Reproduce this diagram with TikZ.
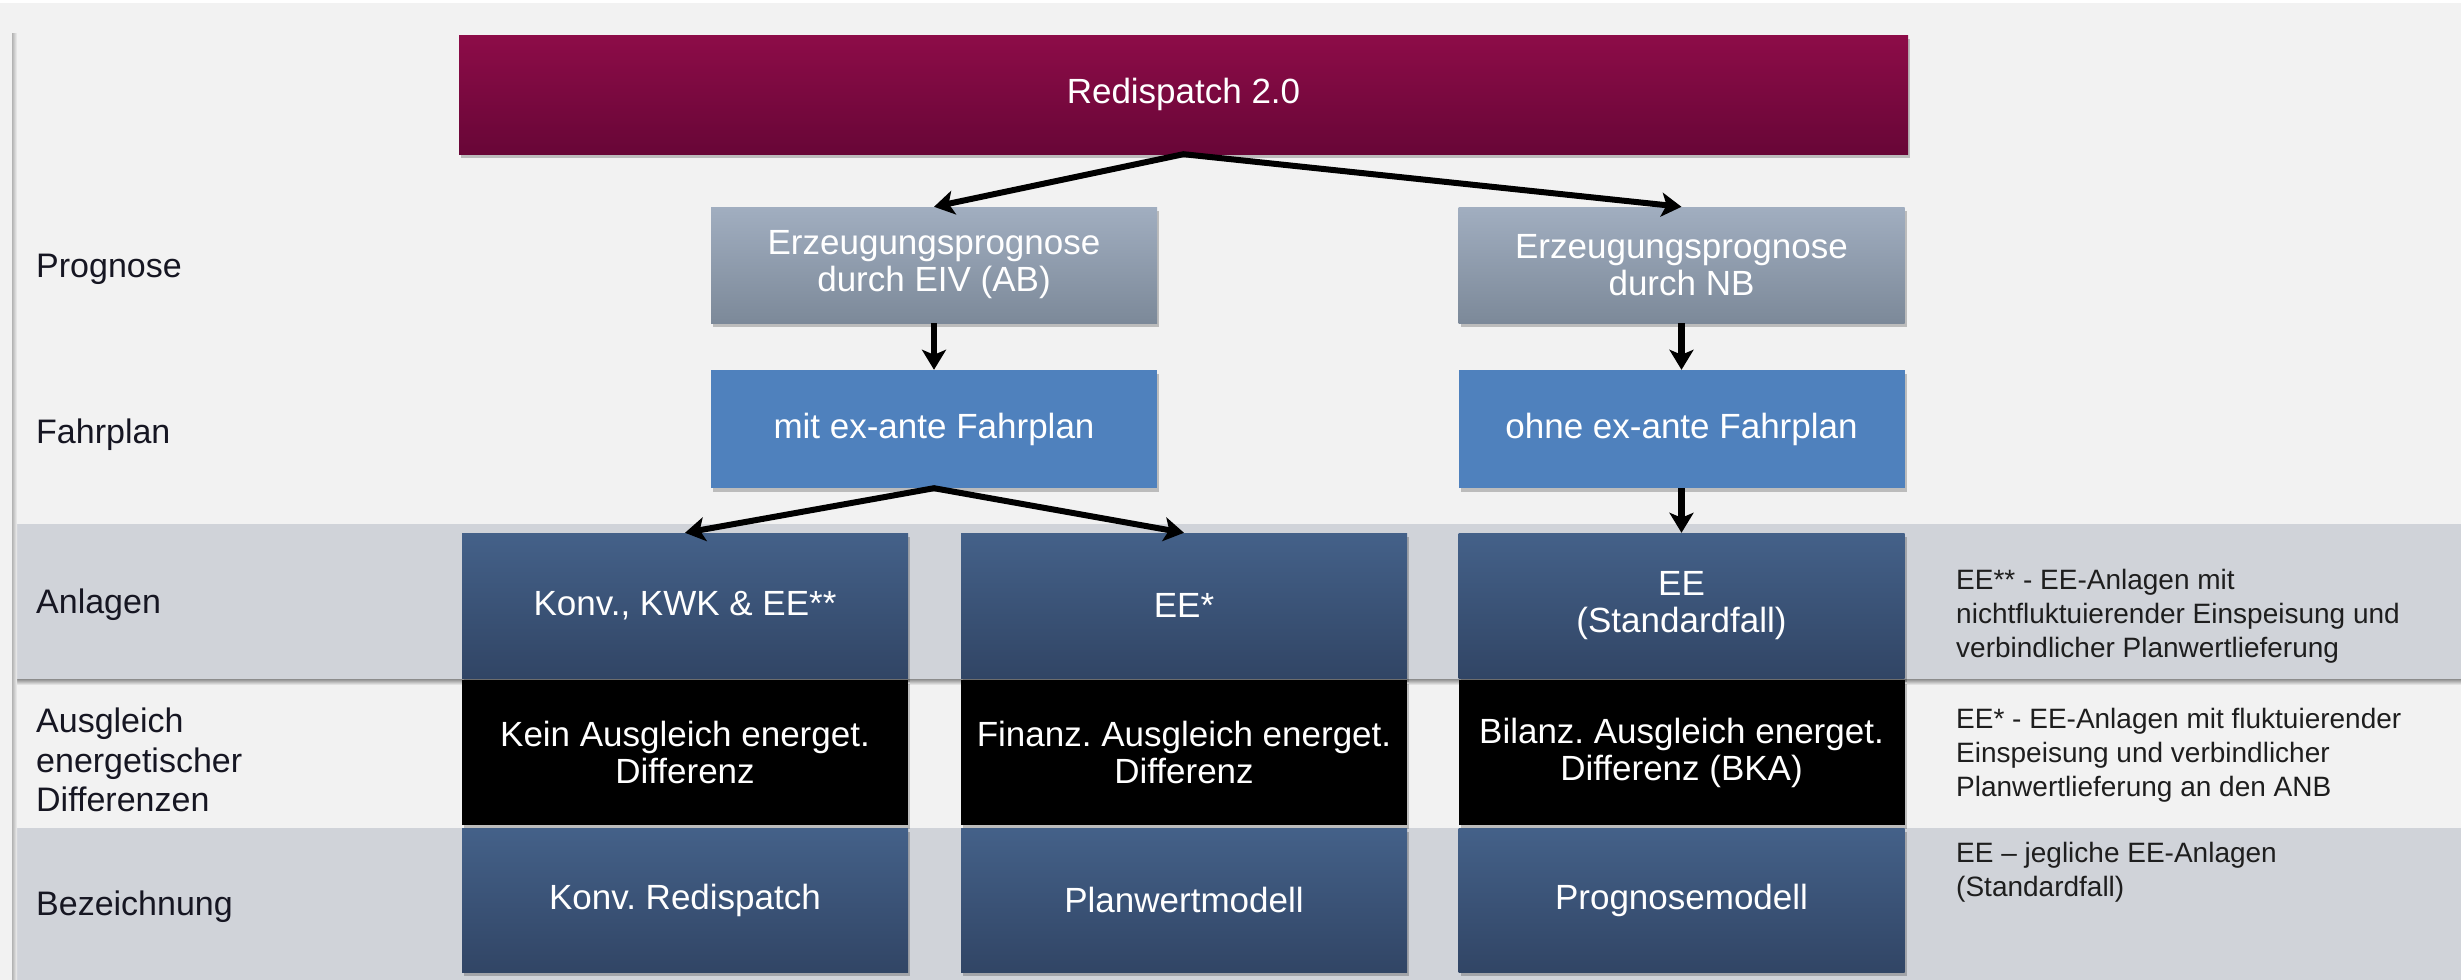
\documentclass[tikz,border=0pt]{standalone}
\usepackage{fontspec}
\setmainfont{Liberation Sans}
\usetikzlibrary{arrows.meta,shadows}
\frenchspacing
\definecolor{bg}{RGB}{242,242,242}
\definecolor{band}{RGB}{208,211,217}
\definecolor{redT}{RGB}{141,12,72}
\definecolor{redB}{RGB}{104,6,55}
\definecolor{grayT}{RGB}{161,174,192}
\definecolor{grayB}{RGB}{124,137,153}
\definecolor{fahr}{RGB}{79,129,189}
\definecolor{navyT}{RGB}{68,97,137}
\definecolor{navyB}{RGB}{49,69,101}
\definecolor{labeltext}{RGB}{22,22,34}
\definecolor{notetext}{RGB}{30,30,30}
\tikzset{
  box/.style={rectangle, inner sep=0pt, text=white, align=center,
    font=\fontsize{35}{37}\selectfont,
    drop shadow={shadow xshift=2pt, shadow yshift=-4pt, opacity=0.22, fill=black}},
  headbox/.style={box, minimum width=1449pt, minimum height=119pt, top color=redT, bottom color=redB},
  progbox/.style={box, minimum width=446pt, minimum height=116pt, top color=grayT, bottom color=grayB},
  fahrbox/.style={box, minimum width=446pt, minimum height=118pt, fill=fahr},
  navybox/.style={box, minimum width=446pt, minimum height=145pt, top color=navyT, bottom color=navyB},
  blackbox/.style={box, minimum width=446pt, minimum height=145pt, fill=black},
  rowlabel/.style={inner sep=0pt, text=labeltext, align=left, font=\fontsize{34}{39.5}\selectfont},
  note/.style={inner sep=0pt, text=notetext, align=left, anchor=north west, font=\fontsize{28}{34}\selectfont},
  arr/.style={draw=black, line width=6.5pt, line join=miter,
    -{Stealth[length=20pt,width=24pt,inset=5pt]}},
  arrboth/.style={draw=black, line width=6pt, line join=miter,
    {Stealth[length=20pt,width=24pt,inset=5pt]}-{Stealth[length=20pt,width=24pt,inset=5pt]}}
}
\begin{document}
\begin{tikzpicture}[x=1pt,y=-1pt]
\useasboundingbox (0,0) rectangle (2461,980);
% background and bands
\fill[bg] (0,0) rectangle (2461,980);
\fill[white] (0,0) rectangle (2461,3);
\fill[band] (15,524) rectangle (2461,679);
\shade[top color=black!45, bottom color=bg] (15,679) rectangle (2461,685);
\fill[band] (15,828) rectangle (2461,980);
\shade[left color=black!30, right color=bg] (12,33) rectangle (17,980);

% header
\node[headbox] (redisp) at (1183.5,94.5) {Redispatch 2.0};

% Prognose row
\node[progbox] (eiv) at (934,265) {Erzeugungsprognose\\durch EIV (AB)};
\node[progbox] (nb) at (1681.5,265) {Erzeugungsprognose\\durch NB};

% Fahrplan row
\node[fahrbox] (mit) at (934,429) {mit ex-ante Fahrplan};
\node[fahrbox] (ohne) at (1681.5,429) {ohne ex-ante Fahrplan};

% Anlagen row
\node[navybox] (konv) at (685,605.5) {Konv., KWK \& EE**};
\node[navybox] (eestar) at (1184,605.5) {EE*};
\node[navybox] (eestd) at (1681.5,605.5) {EE\\(Standardfall)};

% Ausgleich row
\node[blackbox] (kein) at (685,752.5) {Kein Ausgleich energet.\\Differenz};
\node[blackbox] (finanz) at (1184,752.5) {Finanz. Ausgleich energet.\\Differenz};
\node[blackbox] (bilanz) at (1681.5,752.5) {Bilanz. Ausgleich energet.\\Differenz (BKA)};

% Bezeichnung row
\node[navybox, minimum height=144pt] (konvred) at (685,900) {Konv. Redispatch};
\node[navybox, minimum height=144pt] (planwert) at (1184,900) {Planwertmodell};
\node[navybox, minimum height=144pt] (prognosemodell) at (1681.5,900) {Prognosemodell};

% row labels
\node[rowlabel, anchor=base west] (lprog) at (36,277) {Prognose};
\node[rowlabel, anchor=base west] (lfahr) at (36,443) {Fahrplan};
\node[rowlabel, anchor=base west] (lanl) at (36,613) {Anlagen};
\node[rowlabel, anchor=west] (laus) at (36,760) {Ausgleich\\energetischer\\Differenzen};
\node[rowlabel, anchor=base west] (lbez) at (36,915) {Bezeichnung};

% notes
\node[note] (n1) at (1956,569) {EE** - EE-Anlagen mit\\nichtfluktuierender Einspeisung und\\verbindlicher Planwertlieferung};
\node[note] (n2) at (1956,708) {EE* - EE-Anlagen mit fluktuierender\\Einspeisung und verbindlicher\\Planwertlieferung an den ANB};
\node[note] (n3) at (1956,842) {EE – jegliche EE-Anlagen\\(Standardfall)};

% connectors
\draw[arrboth] (eiv.north) -- (redisp.south) -- (nb.north);
\draw[arr] (eiv.south) -- (mit.north);
\draw[arr] (nb.south) -- (ohne.north);
\draw[arrboth] (konv.north) -- (mit.south) -- (eestar.north);
\draw[arr] (ohne.south) -- (eestd.north);
\end{tikzpicture}
\end{document}
